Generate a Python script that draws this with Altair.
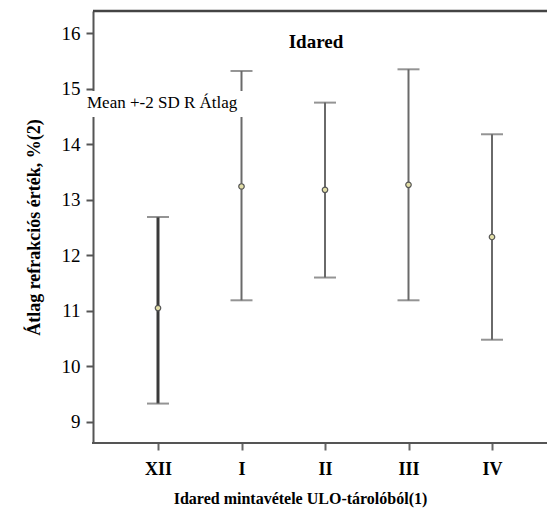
import altair as alt
import pandas as pd

categories = ["XII", "I", "II", "III", "IV"]
means = [11.05, 13.24, 13.18, 13.27, 12.33]
lows = [9.33, 11.19, 11.60, 11.19, 10.48]
highs = [12.69, 15.32, 14.75, 15.35, 14.18]
y_ticks = [9, 10, 11, 12, 13, 14, 15, 16]

df = pd.DataFrame({"cat": categories, "mean": means, "low": lows, "high": highs})

W, H = 454, 432
SERIF = "Liberation Serif, Times New Roman, serif"

xscale = alt.Scale(type="point", domain=categories, range=[65, 399], padding=0)
yscale = alt.Scale(domain=[8.62, 16.4], nice=False, zero=False)

xenc = alt.X("cat:N", scale=xscale, sort=categories,
             axis=alt.Axis(title="Idared mintavétele ULO-tárolóból(1)", labelAngle=0,
                           labelFont=SERIF, labelFontSize=18, labelFontWeight="bold",
                           labelColor="black", labelPadding=10, tickSize=7,
                           tickColor="#666", tickWidth=2, domain=False,
                           titleFont=SERIF, titleFontSize=16, titleFontWeight="bold",
                           titleColor="black", titleX=207, titlePadding=12, grid=False))
yaxis = alt.Axis(title="Átlag refrakciós érték, %(2)", values=y_ticks,
                 labelFont=SERIF, labelFontSize=19, labelColor="black", labelPadding=6,
                 tickSize=7, tickColor="#555", tickWidth=2, domainColor="#555", domainWidth=2,
                 titleFont=SERIF, titleFontSize=18, titleFontWeight="bold", titleColor="black",
                 titlePadding=18, grid=False)

is_xii = alt.datum.cat == "XII"
bar_color = alt.condition(is_xii, alt.value("#3a3a3a"), alt.value("#6a6a6a"))
bar_width = alt.condition(is_xii, alt.value(3), alt.value(2))

base = alt.Chart(df)

rules = base.mark_rule().encode(
    x=xenc,
    y=alt.Y("low:Q", scale=yscale, axis=yaxis),
    y2="high:Q",
    color=bar_color,
    strokeWidth=bar_width,
)
caps_hi = base.mark_tick(size=22, thickness=2, color="#666").encode(
    x=xenc, y=alt.Y("high:Q", scale=yscale)
)
caps_lo = base.mark_tick(size=22, thickness=2, color="#666").encode(
    x=xenc, y=alt.Y("low:Q", scale=yscale)
)
points = base.mark_point(shape="circle", size=30, filled=True, fill="#e3dfa8",
                         stroke="#555", strokeWidth=1.2, opacity=1).encode(
    x=xenc, y=alt.Y("mean:Q", scale=yscale)
)

frame = pd.DataFrame({"a": [0]})
top_line = alt.Chart(frame).mark_rule(color="#444", strokeWidth=2.5).encode(
    x=alt.value(0), x2=alt.value(W + 10), y=alt.value(0)
)
bottom_line = alt.Chart(frame).mark_rule(color="#555", strokeWidth=2).encode(
    x=alt.value(-1), x2=alt.value(W + 10), y=alt.value(H)
)

legend_box = alt.Chart(frame).mark_rect(color="white", clip=False).encode(
    x=alt.value(-9), x2=alt.value(150), y=alt.value(80), y2=alt.value(106)
)
legend_text = alt.Chart(pd.DataFrame({"t": ["Mean +-2 SD R Átlag"]})).mark_text(
    font=SERIF, fontSize=17, align="left", baseline="middle", color="black"
).encode(x=alt.value(-6), y=alt.value(92), text="t:N")

title_text = alt.Chart(pd.DataFrame({"t": ["Idared"]})).mark_text(
    font=SERIF, fontSize=19, fontWeight="bold", align="center", baseline="middle", color="black"
).encode(x=alt.value(223), y=alt.value(31), text="t:N")

chart = alt.layer(
    rules, caps_hi, caps_lo, points, top_line, bottom_line, legend_box, legend_text, title_text
).properties(
    width=W, height=H,
    autosize=alt.AutoSizeParams(type="none"),
    padding={"left": 85, "top": 3, "right": 0, "bottom": 70},
).configure_view(stroke="transparent", strokeWidth=0).configure(background="white")

chart.save("out.html", embed_options={"renderer": "svg", "actions": False})
